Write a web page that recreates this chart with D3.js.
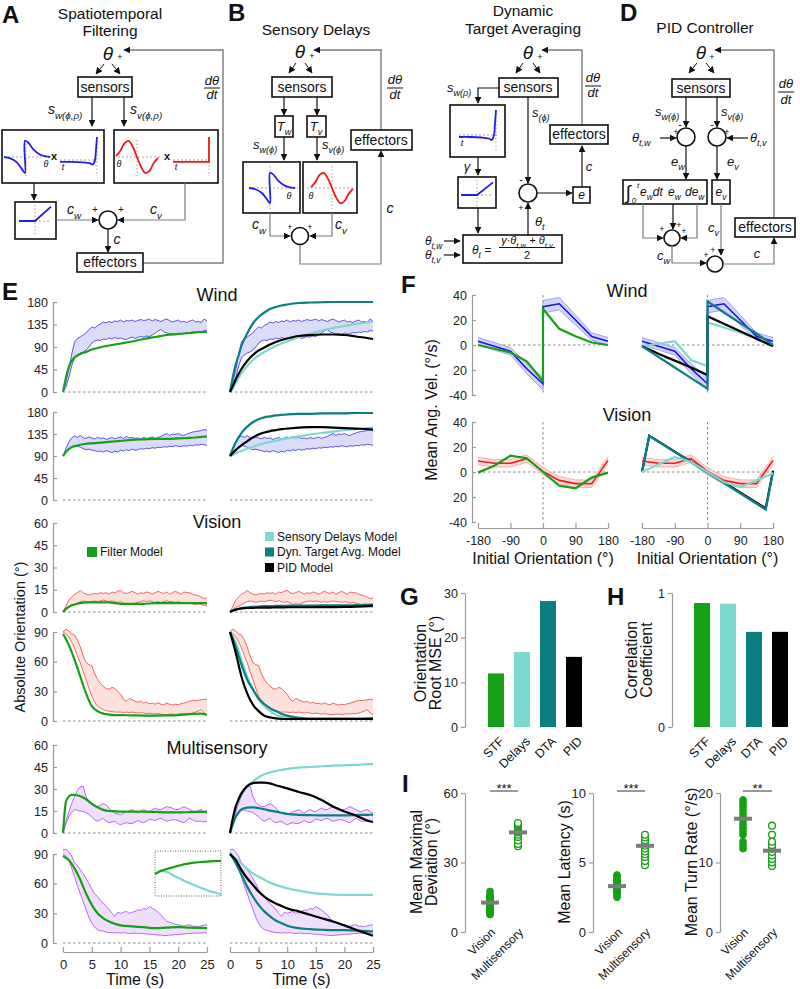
<!DOCTYPE html>
<html><head><meta charset="utf-8">
<script src="https://cdn.jsdelivr.net/npm/d3@7"></script>
<style>body{margin:0;background:#fff}svg{display:block}text{font-family:"Liberation Sans",Arial,Helvetica,sans-serif}</style>
</head><body>
<svg id="fig" width="800" height="989"></svg>
<script>
// ---------------- DATA ----------------
const envTime = [0,0.5,1,1.5,2,2.5,3,3.5,4,4.5,5,5.5,6,6.5,7,7.5,8,8.5,9,9.5,10,10.5,11,11.5,12,12.5,13,13.5,14,14.5,15,15.5,16,16.5,17,17.5,18,18.5,19,19.5,20,20.5,21,21.5,22,22.5,23,23.5,24,24.5,25];
const modelTime = [0,0.5,1,1.5,2,3,4,5,6,7,8,9,10,12,14,16,18,20,22,24,25];

const wind0Upper = [0,20,45,75,100,107,110,114,118,125, 130,128,133,136,140,138,141,139,142,141, 144,140,143,142,144,141,143,145,143,144, 146,142,145,143,141,144,146,143,140,142, 144,140,141,139,142,144,140,141,139,146, 142];
const wind0Lower = [0,10,28,52,68,74,78,80,84,90, 98,102,104,103,106,105,108,106,109,107, 108,106,105,108,110,107,109,111,110,112, 111,114,118,122,125,120,118,116,117,115, 118,116,117,119,118,120,119,121,120,123, 122];
const wind90Upper = [90,105,118,127,131,128,132,127,126,129, 127,125,128,126,127,124,126,128,125,127, 129,126,130,127,128,126,127,125,128,126, 127,129,126,128,130,133,136,132,135,134, 136,133,132,135,137,139,140,141,142,144, 143];
const wind90Lower = [90,98,104,109,112,110,108,105,103,104, 102,101,99,100,98,101,99,97,100,98, 102,100,103,101,104,102,103,105,104,106, 105,107,106,108,107,109,108,110,109,111, 110,109,111,110,112,111,113,112,114,113, 112];
const vis0Upper = [0,4,8,10,12,13,14.5,13,12,11.5, 12,12.5,12,13,12.5,13,12,13.5,13,14, 14.5,13,12.5,13,14,13,12,13,12.5,13.5, 13,12,13,14,13,12.5,13.5,12,13,14, 13,12,13.5,13,13,12,11.5,11,10,9, 9.5];
const vis0Lower = [0,1.5,3,4,5,6,7,7.5,7,6.5, 7,7.5,7,7.5,8,7.5,7,7.5,7,6.5, 7,6,5,5.5,5,6,6.5,7,7.5,7, 7.5,7,6.5,7,6.5,7,7.5,7,7,6.5, 7,6.5,6,6.5,6,5.5,5,5.5,5,4.5, 4];
const vis90Upper = [90,93,91,88,87,82,75,66,59,57, 56,48,42,38,35,33,32,34,33,30, 27,22,20,23,21.5,20,19,20,18,19, 17.5,18,17,18.5,17,16.5,18,17,16,17, 16.5,17.5,18,19,20,21,20.5,21,21.5,22, 21.5];
const vis90Lower = [90,88,85,80,74,66,59,50,42,33, 25,19,15,13,11.5,10.5,10,9.5,9,9, 9,8.5,9,8.5,9,8.5,8,8.5,8,7.5, 8,7.5,7,7.5,7,6.5,6.5,7,7,6.5, 7,7.5,7,7.5,7.5,8,9,10,11.5,8, 6.5];
const multi0Upper = [0,8,14,20,25,29,31.5,32,25,21, 19,18,18,19,20,19,17,15,13.5,13, 12.5,13.5,14.5,15,16,14.5,13.5,15,16,15, 14.5,16,17,16,16,17,18,17.5,17,16, 16,17,18,17,16,15,14.5,15.5,16,14.5, 13.5];
const multi0Lower = [0,6,11,14,16,15.5,15,14.5,14,12.5, 11,9,8,9,10,8,7,7.5,8,6.5, 5.5,6.5,7,6.5,6.5,7.5,8.5,7.5,7,8, 9.5,9,8.5,9.5,10,9,8,8.5,9,9, 8.5,7.5,7,8.5,10,9,8,8,8,7.5, 8];
const multi90Upper = [94,95,92,88,81,78,74,70,65.5,60, 54,50,47,43,40,37,34,30,27,31, 30,31,32,30,31,32,33.5,33,35,34, 37,35,33.5,31,28.5,25,22,21,20,19, 18.5,17.5,17,18,18.5,17,17,16.5,17.5,18, 18.5];
const multi90Lower = [90,88,84,76,67,58,50,42,34,26, 20,16,13.5,12.5,12,11,10.5,10.5,10,10.5, 10,10.5,10,9.5,10,10,9.5,9.5,9.5,9, 9,8.5,8.5,8,8,7.5,7.5,8,8,8.5, 8.5,9,9,9.5,9.5,10,10,10,10,10.5, 10];

const wind0STF = [0,28,50,62,69,76,80,85,88,91,93,95,97,101,106,110,114,116,118,120,120];
const wind0SD  = [0,8,18,28,37,52,64,73,80,86,92,97,101,110,117,123,128,132,136,139,141];
const wind0DTA = [0,30,55,73,92,117,137,150,159,166,170,173,175,178,179,179.5,180,180,180,180,180];
const wind0PID = [0,12,25,36,46,62,74,83,89,95,100,104,107,112,114,115,115,114,111,108,106];
const wind90STF = [90,98,104,108,110,113,115,116,117,118,119,120,121,123,124,125,125,126,127,129,130];
const wind90SD  = [90,92,95,98,100,105,109,113,116,119,121,124,126,130,134,137,140,143,145,147,148];
const wind90DTA = [90,105,118,128,137,150,159,165,169,171,173,174,175,176,176,177,177,177,178,178,178];
const wind90PID = [90,96,102,107,112,120,128,134,138,141,143,145,146,148,149,149,148,147,146,145,144];
const vis0STF = [0,2,3.5,4.5,5,6,6.5,6.5,6.5,6.5,6.5,6,5.5,5.5,5.5,6,6,6,6,6,6];
const vis0SD  = [0,0.8,1.5,2,2.5,3,3.3,3.5,3.7,3.8,4,4,4.1,4.2,4.2,4.3,4.3,4.2,4,3.7,3.5];
const vis0DTA = [0,0.8,1.5,2,2.5,3,3.4,3.7,3.9,4,4.1,4.2,4.2,4.3,4.3,4.4,4.4,4.5,4.6,4.8,5];
const vis0PID = [0,1,1.7,2.1,2.4,2.7,2.8,2.9,3,3,3.1,3.1,3.2,3.2,3.2,3.3,3.3,3.4,3.6,4,4.3];
const vis90STF = [88,83,77,70,62,45,28,15,10,7.5,6.5,6,6,5.7,5.5,5.5,5.7,6,7,7.5,6];
const vis90SD  = [90,85,79,71,62,45,32,21.5,15,10,6.4,4.7,3.4,2.5,2.5,2.5,2.5,2.5,2.5,2.5,2.5];
const vis90DTA = [90,83,75,66,57,42,32,23,17,13,10,7.4,5.4,3.4,2.5,2.5,2.5,2.5,2.5,2.5,2.5];
const vis90PID = [90,80,69,57,45,28,16.5,10,5.4,3.7,2.7,2.2,2,2,2,2,2,2,2,2.2,2.5];
const multi0STF = [0,21,24.8,26,26,25,23,20,17.5,15.8,15,14.8,14.6,14.6,14.6,14.4,14,14,14.3,14.4,14.6];
const multi0SD  = [0,9,17,22,26,31.5,35,38,40,41.4,42.3,43,43.7,44.6,45,45.5,46,46.2,46.4,46.9,47];
const multi0DTA = [0,6,11,14,16,17.3,17.5,17,16.2,15.3,14.6,13.8,13,12.4,12.2,12,12,12,12.2,12.4,12.5];
const multi0PID = [0,10,18,23,27,32,34,34.4,34.4,33.8,32.6,31.5,30.4,28,25.9,22.5,18,14.6,12,8.5,7.5];
const multi90STF = [88,86,84,80,75.5,64,50,38.6,30,25,21.8,19.5,17.8,16.8,16,15,15.5,16,15.5,15.2,15];
const multi90SD  = [92,88,85,83,80.6,75,70.5,67,64,61,58.8,57,55.4,53,51,49.7,49,48.7,48.7,48.7,48.7];
const multi90DTA = [90,86,80.6,75,69,57,47,38.6,32,27,22.8,20,17.5,15,14,13.4,13,13,12.5,12,11.8];
const multi90PID = [90,87,84,79,74,65.5,58.8,52,47,43,40,37.5,35,32,28.5,25,21.8,17.8,13.4,9.4,7.4];

const insetX = [0,0.1,0.2,0.3,0.4,0.5,0.6,0.7,0.8,0.9,1];
const insetGreen = [0.49,0.56,0.61,0.65,0.69,0.72,0.74,0.755,0.765,0.775,0.78];
const insetCyan  = [0.49,0.57,0.52,0.44,0.37,0.3,0.24,0.18,0.12,0.08,0.04];

const fAnglesWind = [-180,-135,-90,-45,0,0,45,90,135,180];
const fWindFly = [3,-1,-5,-19,-31,30.7,33,20,6.7,3];
const fWindSem = [3,3,3,4,5,5,5,4,3,3];
const fWindSTF = [0,-3,-6,-13,-29,29,13,7,2,0];
const fWindSD  = [-1,1,3,-12,-17,18,14,10,5,0];
const fWindDTA = [-1,-9.5,-18,-26.5,-35,35,26,17.5,9,0];
const fWindPID = [-1,-7,-12.5,-18,-24,23,17,11,5,-1];
const fVisAngles = [-180,-135,-90,-45,0,45,90,135,180];
const fVisFly = [8.8,7,7,10.7,0.5,-6.7,-9.3,-9.3,9.3];
const fVisSem = [3,3,3,3,3,3,3,3,3];
const fVisSTF = [-0.5,5,13,11,0,-11,-13,-4.5,-0.5];
const fVisSD  = [0,6,12,8,0,-8,-12,-6.7,-1];
const fVisModelAngles = [-180,-160,160,180];
const fVisDTA = [0,29,-30,0];
const fVisPID = [0,29,-29,1];
const fTicks = [-180,-90,0,90,180];

const gLabels = ["STF","Delays","DTA","PID"];
const gValues = [12,16.8,28.2,15.7];
const hValues = [0.925,0.92,0.71,0.71];

const iGroups = ["Vision","Multisensory"];
const iDevVision = [7.5,8,8.5,9,9.5,10,10.5,11,11.5,12,12,12.5,13,13.5,14,14.5,15,15.5,16,17.5];
const iDevMulti = [37,38,39.5,41,42,43,43.5,44,44.5,45,45.5,46,46.5,47];
const iDevMeans = [12.7,43];
const iLatVision = [2.5,2.6,2.8,2.9,3,3.1,3.2,3.3,3.4,3.5,3.6,3.7,3.8,4,4.1];
const iLatMulti = [4.8,5.1,5.4,5.6,5.8,6,6.2,6.4,6.6,6.8,7];
const iLatMeans = [3.3,6.2];
const iTurnVision = [12,12.5,13,14,14.5,15,15.5,16,16.5,17,17.5,18,18.5,19];
const iTurnMulti = [9.5,10,10.5,11,11.5,12,12.5,13,14,15.3];
const iTurnMeans = [16.3,11.7];

const kWindSpatial = [[-1,0],[-0.7,-0.08],[-0.4,-0.3],[-0.15,-0.7],[0,-0.95],[0,0.95],[0.15,0.85],[0.4,0.45],[0.7,0.15],[1,0.03],[1.2,0]];
const kVisSpatial = [[-1,0.05],[-0.8,0.35],[-0.6,0.8],[-0.4,0.95],[-0.2,0.6],[0,0],[0.2,-0.6],[0.4,-0.95],[0.6,-0.8],[0.8,-0.35],[1,-0.05]];
const kWindTemporal = [[0,-0.08],[0.3,-0.08],[0.6,-0.1],[0.8,-0.14],[0.88,-0.2],[0.94,-0.05],[0.97,0.4],[1,1]];
const kVisTemporal = [[0,-0.08],[1,-0.08],[1,1]];
const kReLU = [[-1,0],[0,0],[1,0.9]];

// ---------------- STYLE ----------------
const FONT = '"Liberation Sans",Arial,Helvetica,sans-serif';
const COL = {stf:'#16a016', sd:'#7dd8cf', dta:'#0b7f80', pid:'#000000',
  wind:'#2f2ff2', windFill:'#dcdcf9', vis:'#f24040', visFill:'#fde1dd', multi:'#a446f0', multiFill:'#efdffb'};

const svg = d3.select('#fig');
svg.append('defs').append('marker').attr('id','ah').attr('viewBox','0 0 10 10').attr('refX',9).attr('refY',5)
  .attr('markerWidth',7).attr('markerHeight',7).attr('markerUnits','userSpaceOnUse').attr('orient','auto')
  .append('path').attr('d','M0,0L10,5L0,10z').attr('fill','#111');

const dg = svg.append('g');
function box(x,y,w,h,sw=1.6){ dg.append('rect').attr('x',x).attr('y',y).attr('width',w).attr('height',h).attr('fill','#fff').attr('stroke','#111').attr('stroke-width',sw); }
function label(x,y,s,size=14,anchor='middle',style='normal',weight='normal',g=dg){ return g.append('text').attr('x',x).attr('y',y).attr('font-size',size).attr('text-anchor',anchor).attr('font-style',style).attr('font-weight',weight).attr('fill','#111').text(s); }
function mtext(x,y,parts,size=13,anchor='start'){
  const t = dg.append('text').attr('x',x).attr('y',y).attr('font-size',size).attr('text-anchor',anchor).attr('font-style','italic').attr('fill','#111');
  let shift=0;
  parts.forEach(([s,k])=>{
    const target = k==='b'? size*0.33 : (k==='p'? -size*0.4 : 0);
    t.append('tspan').attr('dy',target-shift).attr('font-size', k==='n'?size:size*0.7).text(s);
    shift=target;
  });
  return t;
}
function pl(pts,color='#111',w=1.2,head=false){ dg.append('path').attr('d',d3.line()(pts)).attr('fill','none').attr('stroke',color).attr('stroke-width',w).attr('marker-end',head?'url(#ah)':null); }
function circ(cx,cy,r=9){ dg.append('circle').attr('cx',cx).attr('cy',cy).attr('r',r).attr('fill','#fff').attr('stroke','#111').attr('stroke-width',1.6); }
function dashH(x1,x2,y){ dg.append('line').attr('x1',x1).attr('x2',x2).attr('y1',y).attr('y2',y).attr('stroke','#999').attr('stroke-width',0.9).attr('stroke-dasharray','2,2'); }
function dashV(x,y1,y2){ dg.append('line').attr('x1',x).attr('x2',x).attr('y1',y1).attr('y2',y2).attr('stroke','#999').attr('stroke-width',0.9).attr('stroke-dasharray','1.5,2'); }
function kernel(pts,xd,xr,yd,yr,color,curve=d3.curveCatmullRom.alpha(0.5)){
  const xs=d3.scaleLinear(xd,xr), ys=d3.scaleLinear(yd,yr);
  dg.append('path').datum(pts).attr('d',d3.line().curve(curve).x(d=>xs(d[0])).y(d=>ys(d[1]))).attr('fill','none').attr('stroke',color).attr('stroke-width',1.8);
}
function frac(x,y1,yb,y2){ label(x,y1,'dθ',13,'middle','italic'); dg.append('line').attr('x1',x-8).attr('x2',x+8).attr('y1',yb).attr('y2',yb).attr('stroke','#111').attr('stroke-width',1); label(x,y2,'dt',13,'middle','italic'); }
const BLUE='#1f1ff0', RED='#f01818', GR='#7a7a7a';

// ---------- Panel A ----------
label(2,23,'A',24,'start','normal','bold');
label(110,19,'Spatiotemporal',15.5); label(110,36,'Filtering',15.5);
label(108,60,'θ',19,'middle','italic'); label(120,60,'+',9);
pl([[143,263],[223,263],[223,50],[124,50]],GR,1.4,true);
pl([[104,64],[96,74]],'#111',1,true); pl([[112,64],[120,74]],'#111',1,true);
box(78,77,54,20); label(105,92,'sensors',14);
pl([[92,97],[92,126]],'#111',1.2,true); pl([[124,97],[124,126]],'#111',1.2,true);
mtext(48,114,[['s','n'],['w(ϕ,ρ)','b']],14); mtext(130,114,[['s','n'],['v(ϕ,ρ)','b']],14);
box(2,130,102,53); box(114,130,104,53);
dashH(4,50,157); dashV(26,140,176); kernel(kWindSpatial,[-1,1],[4,46],[-1,1],[174,140],BLUE);
label(54,160,'x',11,'middle','normal','bold'); label(46,167,'θ',9,'middle','italic');
dashH(60,97,160); dashV(97,137,176); kernel(kWindTemporal,[0,1],[60,97],[0,1],[160,137],BLUE); label(63,170,'t',9,'middle','italic');
dashH(118,160,157); dashV(137,140,176); kernel(kVisSpatial,[-1,1],[116,158],[-1,1],[174,140],RED);
label(119,167,'θ',9,'middle','italic'); label(167,160,'x',11,'middle','normal','bold');
dashH(173,209,160); dashV(209,137,176); kernel(kVisTemporal,[0,1],[173,209],[0,1],[160,137],RED,d3.curveLinear); label(176,170,'t',9,'middle','italic');
pl([[34,183],[34,200]],'#111',1.2,true);
box(15,202,41,37); dashH(19,51,221); dashV(35,205,236); kernel(kReLU,[-1,1],[19,51],[0,1],[221,205],BLUE,d3.curveLinear);
mtext(67,214,[['c','n'],['w','b']],14);
pl([[56,220],[98,220]],GR,1.2,true);
pl([[185,183],[185,220],[118,220]],GR,1.2,true);
mtext(150,214,[['c','n'],['v','b']],14);
circ(108,220,9); label(95,213,'+',10); label(121,213,'+',10);
pl([[108,229],[108,252]],'#111',1.2,true); label(117,244,'c',14,'middle','italic');
box(77,253,66,19); label(110,267,'effectors',14);
frac(212,85,88,99);

// ---------- Panel B ----------
label(228,21,'B',24,'start','normal','bold');
label(316,35,'Sensory Delays',15.5);
label(300,58,'θ',19,'middle','italic'); label(312,59,'+',9);
pl([[381,130],[381,50],[314,50]],GR,1.4,true);
pl([[296,63],[289,73]],'#111',1,true); pl([[305,63],[312,73]],'#111',1,true);
box(272,77,60,20); label(302,92,'sensors',14);
pl([[284,97],[284,115]],'#111',1.2,true); pl([[317,97],[317,115]],'#111',1.2,true);
box(275,116,18,21); mtext(284,131,[['T','n'],['w','b']],13,'middle');
box(307,116,19,21); mtext(316,131,[['T','n'],['v','b']],13,'middle');
pl([[284,137],[284,160]],'#111',1.2,true); pl([[317,137],[317,160]],'#111',1.2,true);
mtext(253,149,[['s','n'],['w(ϕ)','b']],13); mtext(322,149,[['s','n'],['v(ϕ)','b']],13);
box(243,162,57,51); box(303,162,54,51);
dashH(249,298,188); dashV(270,166,209); kernel(kWindSpatial,[-1,1],[249,291],[-1,1],[204,172],BLUE); label(289,199,'θ',9,'middle','italic');
dashH(307,355,188); dashV(332,166,209); kernel(kVisSpatial,[-1,1],[311,353],[-1,1],[204,172],RED); label(311,199,'θ',9,'middle','italic');
mtext(252,229,[['c','n'],['w','b']],14);
pl([[270,213],[270,236],[290,236]],GR,1.2,true);
mtext(335,229,[['c','n'],['v','b']],14);
pl([[332,213],[332,236],[310,236]],GR,1.2,true);
circ(300,236,8.5); label(290,230,'+',9); label(310,230,'+',9);
pl([[300,245],[300,264],[381,264],[381,151]],GR,1.2,true);
label(390,213,'c',14,'middle','italic');
box(351,130,61,20); label(381,145,'effectors',14);
frac(395,84,88,99);

// ---------- Panel C (DTA) ----------
label(523,16,'Dynamic',15.5); label(523,34,'Target Averaging',15.5);
label(528,59,'θ',19,'middle','italic'); label(540,60,'+',9);
pl([[582,125],[582,50],[542,50]],GR,1.4,true);
pl([[523,63],[516,73]],'#111',1,true); pl([[533,63],[540,73]],'#111',1,true);
box(499,78,59,19); label(528,92,'sensors',14);
pl([[499,88],[478,88],[478,103]],'#111',1.2,true);
mtext(447,92,[['s','n'],['w(ρ)','b']],13);
box(450,105,55,52); dashH(459,498,135); dashV(496,110,152);
kernel(kWindTemporal,[0,1],[459,496],[0,1],[135,110],BLUE); label(462,146,'t',9,'middle','italic');
label(467,171,'γ',13,'middle','italic'); pl([[478,157],[478,175]],'#111',1.2,true);
box(458,177,38,31); dashH(461,493,195); dashV(477,180,206); kernel(kReLU,[-1,1],[461,493],[0,1],[195,181],BLUE,d3.curveLinear);
pl([[478,208],[478,233]],'#111',1.2,true);
box(463,235,99,28);
mtext(472,254,[['θ','n'],['t','b'],[' =','n']],12);
mtext(527,244,[['γ·θ','n'],['t,w','b'],[' + θ','n'],['t,v','b']],11,'middle');
dg.append('line').attr('x1',499).attr('x2',555).attr('y1',247.5).attr('y2',247.5).attr('stroke','#111').attr('stroke-width',1);
label(527,259,'2',11);
mtext(425,245,[['θ','n'],['t,w','b']],12); pl([[444,241],[460,241]],'#111',1.2,true);
mtext(425,259,[['θ','n'],['t,v','b']],12); pl([[444,255],[460,255]],'#111',1.2,true);
pl([[528,235],[528,203]],'#111',1.2,true); mtext(535,226,[['θ','n'],['t','b']],13);
pl([[528,97],[528,183]],'#111',1.2,true); mtext(532,117,[['s','n'],['(ϕ)','b']],13);
circ(528,193,9); label(521,183,'-',11); label(521,211,'+',9);
pl([[537,193],[572,193]],'#111',1.2,true);
box(573,187,17,16); label(581.5,199,'e',12,'middle','italic');
pl([[582,187],[582,146]],'#111',1.2,true); label(589,171,'c',13,'middle','italic');
box(550,125,58,19); label(579,139,'effectors',14);
frac(593,82,86,97);

// ---------- Panel D (PID) ----------
label(620,21,'D',24,'start','normal','bold');
label(705,33,'PID Controller',15.5);
label(701,59,'θ',19,'middle','italic'); label(712,60,'+',9);
pl([[774,218],[774,50],[715,50]],GR,1.4,true);
pl([[697,63],[689,73]],'#111',1,true); pl([[706,63],[714,73]],'#111',1,true);
box(672,79,58,18); label(701,93,'sensors',14);
pl([[686,97],[686,127]],'#111',1.2,true); pl([[717,97],[717,127]],'#111',1.2,true);
mtext(655,116,[['s','n'],['w(ϕ)','b']],13); mtext(721,116,[['s','n'],['v(ϕ)','b']],13);
circ(686,137,9); circ(717,137,9);
label(680,128,'-',11); label(676,135,'+',9); label(712,128,'-',11); label(727,135,'+',9);
mtext(632,142,[['θ','n'],['t,w','b']],13); pl([[660,138],[676,138]],'#111',1.2,true);
mtext(750,142,[['θ','n'],['t,v','b']],13); pl([[748,138],[727,138]],'#111',1.2,true);
mtext(671,166,[['e','n'],['w','b']],13); mtext(727,166,[['e','n'],['v','b']],13);
pl([[686,146],[686,179]],'#111',1.2,true); pl([[717,146],[717,179]],'#111',1.2,true);
box(623,180,84,24); box(712,180,18,24);
label(628,199,'∫',19,'middle','italic'); label(638,188,'t',8,'middle','italic'); label(634,203,'0',8,'middle','italic');
mtext(640,196,[['e','n'],['w','b'],['dt','n']],12);
mtext(668,196,[['e','n'],['w','b']],12);
mtext(685,196,[['de','n'],['w','b']],12);
mtext(721,196,[['e','n'],['v','b']],12,'middle');
pl([[643,204],[643,238],[663,238]],GR,1.2,true);
pl([[673,204],[673,229]],'#111',1.2,true);
pl([[697,204],[697,238],[681,238]],GR,1.2,true);
circ(672,238,8); label(662,232,'+',9); label(679,228,'+',9); label(684,234,'+',9);
mtext(657,260,[['c','n'],['w','b']],13);
pl([[672,246],[672,263],[706,263]],GR,1.2,true);
mtext(708,232,[['c','n'],['v','b']],13);
pl([[721,204],[721,255]],GR,1.2,true);
circ(715,264,8); label(706,258,'+',9); label(713,253,'+',9);
pl([[723,264],[774,264],[774,238]],GR,1.2,true); label(757,258,'c',13,'middle','italic');
box(735,218,60,19); label(765,232,'effectors',14);
frac(786,88,92,104);

// ---------------- helpers for charts ----------------
const cg = svg.append('g');
function styleAxis(sel,size=12.5){
  sel.attr('font-family',FONT).attr('font-size',size);
  sel.selectAll('.domain').attr('stroke','#9a9a9a').attr('stroke-width',1.2);
  sel.selectAll('.tick line').attr('stroke','#9a9a9a').attr('stroke-width',1.2);
  sel.selectAll('.tick text').attr('fill','#222');
}
function ctext(x,y,s,size,anchor='middle',weight='normal',rot=0){
  const t=cg.append('text').attr('font-size',size).attr('text-anchor',anchor).attr('font-weight',weight).attr('fill','#111').text(s);
  if(rot) t.attr('transform',`translate(${x},${y}) rotate(${rot})`); else t.attr('x',x).attr('y',y);
  return t;
}

// ---------------- Panel E ----------------
ctext(2,300,'E',24,'start','bold');
const xEL = d3.scaleLinear([0,25],[63,207]), xER = d3.scaleLinear([0,25],[230,373]);
const envWind={line:COL.wind,fill:COL.windFill}, envVis={line:COL.vis,fill:COL.visFill}, envMulti={line:COL.multi,fill:COL.multiFill};
function tsPanel(xs,ys,upper,lower,env,models){
  const g=cg.append('g');
  g.append('line').attr('x1',xs(0)).attr('x2',xs(25)).attr('y1',ys(0)).attr('y2',ys(0)).attr('stroke','#8a8a8a').attr('stroke-width',1).attr('stroke-dasharray','2.5,2.5');
  g.append('path').datum(upper).attr('d',d3.area().x((d,i)=>xs(envTime[i])).y0((d,i)=>ys(lower[i])).y1(d=>ys(d))).attr('fill',env.fill);
  [upper,lower].forEach(arr=>g.append('path').datum(arr).attr('d',d3.line().x((d,i)=>xs(envTime[i])).y(d=>ys(d))).attr('fill','none').attr('stroke',env.line).attr('stroke-width',0.8));
  models.forEach(m=>g.append('path').datum(m.v).attr('d',d3.line().curve(d3.curveMonotoneX).x((d,i)=>xs(modelTime[i])).y(d=>ys(d))).attr('fill','none').attr('stroke',m.c).attr('stroke-width',2.2));
}
function yAxisE(ys,ticks){ cg.append('g').attr('transform','translate(53,0)').call(d3.axisLeft(ys).tickValues(ticks).tickSizeInner(-4).tickSizeOuter(0).tickPadding(5)).call(styleAxis); }
const rows = [
  {d:[0,180],r:[392,302],t:[0,45,90,135,180],u:wind0Upper,l:wind0Lower,e:envWind,m:[wind0STF,wind0SD,wind0DTA,wind0PID]},
  {d:[0,180],r:[500,412],t:[0,45,90,135,180],u:wind90Upper,l:wind90Lower,e:envWind,m:[wind90STF,wind90SD,wind90DTA,wind90PID]},
  {d:[0,60],r:[612,523],t:[0,15,30,45,60],u:vis0Upper,l:vis0Lower,e:envVis,m:[vis0STF,vis0SD,vis0DTA,vis0PID]},
  {d:[0,90],r:[721,632],t:[0,30,60,90],u:vis90Upper,l:vis90Lower,e:envVis,m:[vis90STF,vis90SD,vis90DTA,vis90PID]},
  {d:[0,60],r:[833,745],t:[0,15,30,45,60],u:multi0Upper,l:multi0Lower,e:envMulti,m:[multi0STF,multi0SD,multi0DTA,multi0PID]},
  {d:[0,90],r:[943,854],t:[0,30,60,90],u:multi90Upper,l:multi90Lower,e:envMulti,m:[multi90STF,multi90SD,multi90DTA,multi90PID]}
];
rows.forEach(row=>{
  const ys=d3.scaleLinear(row.d,row.r);
  tsPanel(xEL,ys,row.u,row.l,row.e,[{v:row.m[0],c:COL.stf}]);
  tsPanel(xER,ys,row.u,row.l,row.e,[{v:row.m[1],c:COL.sd},{v:row.m[2],c:COL.dta},{v:row.m[3],c:COL.pid}]);
  yAxisE(ys,row.t);
});
// inset
{
  const ix=d3.scaleLinear([0,1],[155,221]), iy=d3.scaleLinear([0,1],[896,851]);
  cg.append('rect').attr('x',155).attr('y',851).attr('width',66).attr('height',45).attr('fill','#fff').attr('stroke','#666').attr('stroke-width',1).attr('stroke-dasharray','1,1.5');
  [[insetCyan,COL.sd],[insetGreen,COL.stf]].forEach(([arr,c])=>cg.append('path').datum(arr).attr('d',d3.line().curve(d3.curveMonotoneX).x((d,i)=>ix(insetX[i])).y(d=>iy(d))).attr('fill','none').attr('stroke',c).attr('stroke-width',2.2));
}
[xEL,xER].forEach(xs=>{
  cg.append('g').attr('transform','translate(0,952)').call(d3.axisBottom(xs).tickValues([0,5,10,15,20,25]).tickSizeInner(-5).tickSizeOuter(0).tickPadding(8)).call(styleAxis,13);
  ctext((xs.range()[0]+xs.range()[1])/2,985,'Time (s)',16);
});
ctext(217,301,'Wind',18); ctext(217,528,'Vision',18); ctext(217,754,'Multisensory',18);
ctext(25,637,'Absolute Orientation (°)',14.5,'middle','normal',-90);
// legends
cg.append('rect').attr('x',87).attr('y',547).attr('width',10).attr('height',10).attr('fill',COL.stf);
ctext(100,556,'Filter Model',12,'start');
[['Sensory Delays Model',COL.sd],['Dyn. Target Avg. Model',COL.dta],['PID Model',COL.pid]].forEach(([s,c],i)=>{
  cg.append('rect').attr('x',265).attr('y',532+i*15.5).attr('width',9).attr('height',9).attr('fill',c);
  ctext(277,540.5+i*15.5,s,12,'start');
});

// ---------------- Panel F ----------------
ctext(401,293,'F',24,'start','bold');
const xFL=d3.scaleLinear([-180,180],[478,608]), xFR=d3.scaleLinear([-180,180],[642,773]);
const yFW=d3.scaleLinear([-40,40],[395,295]), yFV=d3.scaleLinear([-40,40],[522,422]);
function fPanel(xs,ys,angles,mean,sem,env,models){
  const g=cg.append('g');
  g.append('line').attr('x1',xs(-180)).attr('x2',xs(180)).attr('y1',ys(0)).attr('y2',ys(0)).attr('stroke','#8a8a8a').attr('stroke-dasharray','2.5,2.5');
  g.append('line').attr('x1',xs(0)).attr('x2',xs(0)).attr('y1',ys(40)).attr('y2',ys(-40)).attr('stroke','#8a8a8a').attr('stroke-dasharray','2.5,2.5');
  g.append('path').datum(mean).attr('d',d3.area().x((d,i)=>xs(angles[i])).y0((d,i)=>ys(d-sem[i])).y1((d,i)=>ys(d+sem[i]))).attr('fill',env.fill).attr('opacity',0.9);
  [-1,1].forEach(s=>g.append('path').datum(mean).attr('d',d3.line().x((d,i)=>xs(angles[i])).y((d,i)=>ys(d+s*sem[i]))).attr('fill','none').attr('stroke',env.edge).attr('stroke-width',0.8));
  g.append('path').datum(mean).attr('d',d3.line().x((d,i)=>xs(angles[i])).y(d=>ys(d))).attr('fill','none').attr('stroke',env.line).attr('stroke-width',1.6);
  models.forEach(m=>g.append('path').datum(m.v).attr('d',d3.line().x((d,i)=>xs(m.a[i])).y(d=>ys(d))).attr('fill','none').attr('stroke',m.c).attr('stroke-width',2.2));
}
const fBlue={fill:'#cfcffb',edge:'#8c8cff',line:'#1414f0'}, fRed={fill:'#fdd6d6',edge:'#ff9c9c',line:'#f01c1c'};
fPanel(xFL,yFW,fAnglesWind,fWindFly,fWindSem,fBlue,[{a:fAnglesWind,v:fWindSTF,c:COL.stf}]);
fPanel(xFR,yFW,fAnglesWind,fWindFly,fWindSem,fBlue,[{a:fAnglesWind,v:fWindSD,c:COL.sd},{a:fAnglesWind,v:fWindPID,c:COL.pid},{a:fAnglesWind,v:fWindDTA,c:COL.dta}]);
fPanel(xFL,yFV,fVisAngles,fVisFly,fVisSem,fRed,[{a:fVisAngles,v:fVisSTF,c:COL.stf}]);
fPanel(xFR,yFV,fVisAngles,fVisFly,fVisSem,fRed,[{a:fVisModelAngles,v:fVisPID,c:COL.pid},{a:fVisModelAngles,v:fVisDTA,c:COL.dta},{a:fVisAngles,v:fVisSD,c:COL.sd}]);
[yFW,yFV].forEach(ys=>cg.append('g').attr('transform','translate(472,0)').call(d3.axisLeft(ys).tickValues([-40,-20,0,20,40]).tickFormat(d=>d===-20?'20':String(d)).tickSizeInner(-4).tickSizeOuter(0).tickPadding(5)).call(styleAxis,12.5));
[xFL,xFR].forEach(xs=>{
  cg.append('g').attr('transform','translate(0,528)').call(d3.axisBottom(xs).tickValues(fTicks).tickFormat(d=>String(d)).tickSizeInner(-5).tickSizeOuter(0).tickPadding(8)).call(styleAxis,12.5);
  ctext((xs.range()[0]+xs.range()[1])/2,564,'Initial Orientation (°)',16);
});
ctext(627,297,'Wind',18); ctext(627,421,'Vision',18);
ctext(437,410,'Mean Ang. Vel. (°/s)',16,'middle','normal',-90);

// ---------------- Panels G, H ----------------
ctext(400,605,'G',24,'start','bold'); ctext(607,605,'H',24,'start','bold');
const barColors=[COL.stf,COL.sd,COL.dta,COL.pid];
function barPanel(x0,x1,axisX,ys,vals,ticks){
  const xb=d3.scaleBand().domain(gLabels).range([x0,x1]).paddingInner(0.385).paddingOuter(0);
  cg.append('g').attr('transform',`translate(${axisX},0)`).call(d3.axisLeft(ys).tickValues(ticks).tickFormat(d=>String(d)).tickSizeInner(4).tickSizeOuter(0).tickPadding(3)).call(styleAxis,12.5);
  cg.selectAll(null).data(vals).enter().append('rect').attr('x',(d,i)=>xb(gLabels[i])).attr('width',xb.bandwidth()).attr('y',d=>ys(d)).attr('height',d=>ys(0)-ys(d)).attr('fill',(d,i)=>barColors[i]);
  gLabels.forEach(l=>ctext(xb(l)+xb.bandwidth()/2+9,742,l,12.5,'end','normal',-45));
}
barPanel(488,582,465,d3.scaleLinear([0,30],[727,593]),gValues,[0,10,20,30]);
barPanel(694,788,672,d3.scaleLinear([0,1],[727,593]),hValues,[0,1]);
ctext(426,663,'Orientation',16,'middle','normal',-90); ctext(441,663,'Root MSE (°)',16,'middle','normal',-90);
ctext(637,660,'Correlation',16,'middle','normal',-90); ctext(652,660,'Coefficient',16,'middle','normal',-90);

// ---------------- Panel I ----------------
ctext(402,792,'I',24,'start','bold');
function dotPanel(axisX,cats,ys,ticks,vis,multi,means,stars,labelLines,labelX){
  cg.append('g').attr('transform',`translate(${axisX},0)`).call(d3.axisLeft(ys).tickValues(ticks).tickFormat(d=>String(d)).tickSizeInner(4).tickSizeOuter(0).tickPadding(3)).call(styleAxis,13);
  cg.selectAll(null).data(vis).enter().append('circle').attr('cx',cats[0]).attr('cy',d=>ys(d)).attr('r',3.4).attr('fill',COL.stf).attr('stroke',COL.stf).attr('stroke-width',1);
  cg.selectAll(null).data(multi).enter().append('circle').attr('cx',cats[1]).attr('cy',d=>ys(d)).attr('r',3.4).attr('fill','#fff').attr('stroke',COL.stf).attr('stroke-width',1.3);
  means.forEach((m,i)=>cg.append('rect').attr('x',cats[i]-9).attr('y',ys(m)-2).attr('width',18).attr('height',4).attr('fill','#7c7c7c'));
  cg.append('line').attr('x1',cats[0]).attr('x2',cats[1]).attr('y1',791).attr('y2',791).attr('stroke','#333').attr('stroke-width',1);
  ctext((cats[0]+cats[1])/2,793,stars,13);
  iGroups.forEach((gname,i)=>ctext(cats[i]+6,933,gname,12,'end','normal',-45));
  labelLines.forEach((s,i)=>ctext(labelX[i],862,s,16,'middle','normal',-90));
}
dotPanel(465,[490,518],d3.scaleLinear([0,60],[932,793]),[0,30,60],iDevVision,iDevMulti,iDevMeans,'***',['Mean Maximal','Deviation (°)'],[422,437]);
dotPanel(593,[617,645],d3.scaleLinear([0,10],[932,793]),[0,5,10],iLatVision,iLatMulti,iLatMeans,'***',['Mean Latency (s)'],[570]);
dotPanel(720,[743,772],d3.scaleLinear([0,20],[932,793]),[0,10,20],iTurnVision,iTurnMulti,iTurnMeans,'**',['Mean Turn Rate (°/s)'],[697]);
</script>
</body></html>
